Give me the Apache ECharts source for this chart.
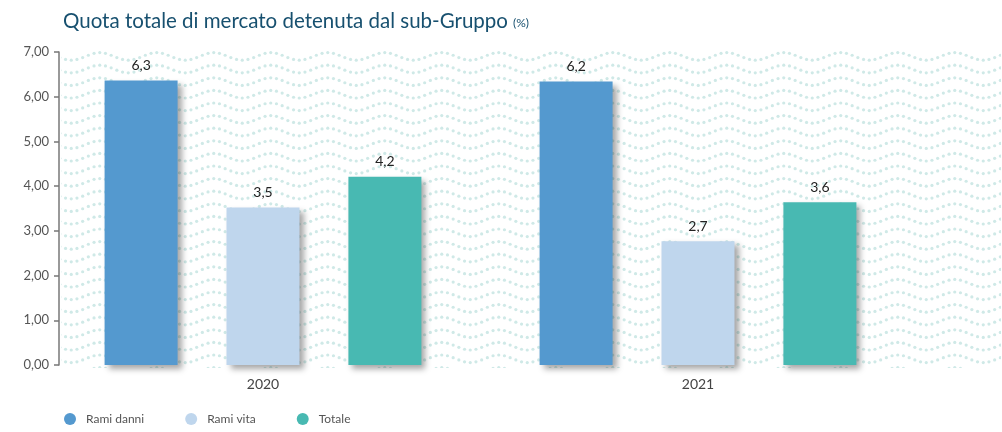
<!DOCTYPE html>
<html>
<head>
<meta charset="utf-8">
<script src="https://cdn.jsdelivr.net/npm/echarts@6/dist/echarts.min.js"></script>
<style>
  html, body { margin: 0; padding: 0; background: #fff; }
  #chart { width: 1002px; height: 432px; }
</style>
</head>
<body>
<div id="chart"></div>
<script>
// data (bar heights as drawn, labels as printed)
const categories = ['2020', '2021']
const seriesNames = ['Rami danni', 'Rami vita', 'Totale']
const ramiDanni = [6.36, 6.34]
const ramiVita = [3.52, 2.77]
const totale = [4.21, 3.64]
const ramiDanniLabels = ['6,3', '6,2']
const ramiVitaLabels = ['3,5', '2,7']
const totaleLabels = ['4,2', '3,6']
const colors = ['#5499cf', '#bfd6ed', '#48b9b2']

const fontFamily = 'Lato, "Open Sans", sans-serif'

// wavy dotted background
function makePattern() {
  const c = document.createElement('canvas')
  c.width = 57
  c.height = 63
  const ctx = c.getContext('2d')
  ctx.fillStyle = '#cfe9e7'
  for (let row = -1; row <= 5; row++) {
    for (let i = 0; i < 10; i++) {
      const x = i * 5.7 + 2.85
      const y = row * 12.6 + 6 + 3.8 * Math.sin(2 * Math.PI * x / 57)
      ctx.beginPath()
      ctx.arc(x, y, 1.6, 0, Math.PI * 2)
      ctx.fill()
    }
  }
  return c
}

const chart = echarts.init(document.getElementById('chart'))
const seriesData = [ramiDanni, ramiVita, totale]
const seriesLabels = [ramiDanniLabels, ramiVitaLabels, totaleLabels]

chart.setOption({
  animation: false,
  title: {
    text: '{a|Quota totale di mercato detenuta dal sub-Gruppo} {b|(%)}',
    left: 58,
    top: 6,
    textStyle: {
      rich: {
        a: { fontSize: 20.5, color: '#17506f', fontFamily: fontFamily, fontWeight: 'normal' },
        b: { fontSize: 12, color: '#17506f', fontFamily: fontFamily, fontWeight: 'normal', padding: [4, 0, 0, 0] }
      }
    }
  },
  graphic: [{
    type: 'rect',
    z: -10,
    silent: true,
    shape: { x: 61, y: 50, width: 940, height: 318 },
    style: { fill: { image: makePattern(), repeat: 'repeat' } }
  }],
  legend: {
    data: seriesNames,
    left: 59,
    bottom: 2,
    icon: 'circle',
    itemWidth: 12,
    itemHeight: 12,
    itemGap: 41,
    textStyle: { color: '#555', fontSize: 12, fontFamily: fontFamily, padding: [0, 0, 0, 5] }
  },
  grid: {
    left: 45.5,
    right: 86.5,
    top: 52,
    bottom: 67,
    containLabel: false
  },
  xAxis: {
    type: 'category',
    data: categories,
    axisLine: { show: false },
    axisTick: { show: false },
    axisLabel: { color: '#444', fontSize: 14, fontFamily: fontFamily, margin: 12 }
  },
  yAxis: {
    type: 'value',
    min: 0,
    max: 7,
    interval: 1,
    offset: -13.5,
    axisLine: { show: true, lineStyle: { color: '#777', width: 1.5 } },
    axisTick: { show: true, length: 5, lineStyle: { color: '#777', width: 1.5 } },
    splitLine: { show: false },
    axisLabel: {
      color: '#555',
      fontSize: 13,
      fontFamily: fontFamily,
      margin: 10,
      formatter: v => v.toFixed(2).replace('.', ',')
    }
  },
  series: seriesNames.map((name, i) => ({
    name: name,
    type: 'bar',
    data: seriesData[i],
    barWidth: 73,
    barGap: '67%',
    itemStyle: {
      color: colors[i],
      shadowColor: 'rgba(0,0,0,0.35)',
      shadowBlur: 6,
      shadowOffsetX: 4,
      shadowOffsetY: 4
    },
    label: {
      show: true,
      position: 'top',
      distance: 8,
      color: '#222',
      fontSize: 14,
      fontFamily: fontFamily,
      formatter: p => seriesLabels[i][p.dataIndex]
    }
  }))
})
</script>
</body>
</html>
